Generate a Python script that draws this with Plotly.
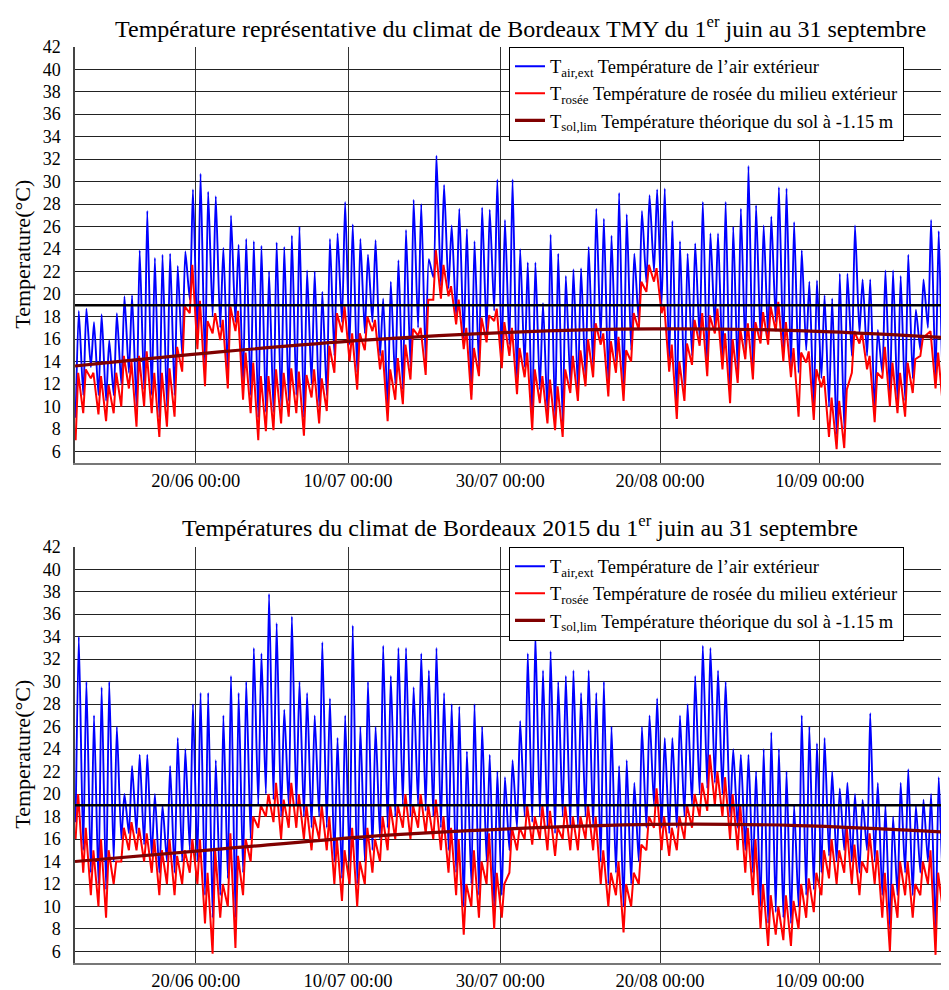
import plotly.graph_objects as go
import pandas as pd

# ---------------- data ----------------
START = "2015-06-04"          # day index 0 of every daily series below
X_RANGE = ["2015-06-04 03:00", "2015-09-26 23:25"]
TICK_DATES = ["2015-06-20", "2015-07-10", "2015-07-30", "2015-08-20", "2015-09-10"]
COMFORT_LIMIT = 19.0

TITLE_TMY = "Température représentative du climat de Bordeaux TMY du 1<sup>er</sup> juin au 31 septembre"
TITLE_2015 = "Températures du climat de Bordeaux 2015 du 1<sup>er</sup> juin au 31 septembre"
Y_TITLE = "Temperature(°C)"
LEG_AIR = "T<sub>air,ext</sub> Température de l’air extérieur"
LEG_DEW = "T<sub>rosée</sub> Température de rosée du milieu extérieur"
LEG_SOIL = "T<sub>sol,lim</sub> Température théorique du sol à -1.15 m"

# TMY : daily max / min of air temperature
tmy_air_max = [18.5, 18.7, 17.5, 18.2, 15.9, 18.3, 19.8, 19.9, 23.9, 27.4,
               23.2, 23.5, 23.6, 22.5, 23.8, 29.3, 30.7, 29.1, 28.7, 24.1,
               27.0, 24.4, 24.9, 24.7, 24.3, 22.0, 24.6, 24.2, 25.2, 26.0,
               22.1, 22.0, 20.2, 24.9, 25.4, 28.2, 26.2, 24.9, 23.5, 24.8,
               19.6, 21.1, 23.0, 25.7, 28.4, 28.0, 23.1, 32.3, 29.7, 26.1,
               27.6, 25.8, 24.7, 27.7, 27.5, 30.2, 26.6, 30.2, 24.0, 22.8,
               22.8, 19.2, 25.3, 23.6, 21.6, 22.2, 22.3, 24.2, 27.6, 26.7,
               25.2, 29.0, 27.1, 23.6, 27.4, 28.8, 29.3, 29.4, 26.5, 24.7,
               23.6, 24.5, 28.2, 25.4, 25.4, 28.2, 26.0, 27.6, 31.4, 27.9,
               26.1, 26.9, 29.5, 29.4, 26.4, 23.9, 21.1, 21.2, 19.9, 19.6,
               21.8, 21.8, 26.1, 21.3, 21.3, 16.8, 22.1, 22.1, 21.6, 23.5,
               18.6, 21.3, 26.6, 25.6, 22.5, 19.5]
tmy_air_min = [9.0, 11.0, 13.5, 11.0, 10.5, 11.0, 12.0, 13.0, 10.0, 11.5,
               11.0, 9.0, 10.0, 11.0, 14.5, 19.5, 16.0, 13.5, 18.0, 17.0,
               13.0, 17.5, 12.0, 11.0, 9.0, 9.5, 9.5, 10.0, 10.5, 11.0,
               9.0, 12.0, 10.0, 11.0, 14.5, 17.5, 15.5, 13.0, 16.5, 17.5,
               14.5, 10.0, 12.0, 11.5, 13.5, 17.0, 14.0, 21.5, 20.7, 20.5,
               18.0, 16.0, 11.0, 13.5, 16.5, 18.5, 14.5, 15.5, 12.0, 13.5,
               9.0, 11.5, 9.5, 9.0, 8.5, 12.0, 11.5, 12.5, 13.5, 16.0,
               12.0, 14.0, 11.5, 15.0, 17.5, 21.0, 22.0, 19.0, 14.0, 10.0,
               11.5, 14.5, 16.0, 13.5, 17.0, 14.0, 11.0, 13.0, 15.0, 13.0,
               16.0, 16.0, 17.5, 15.0, 13.5, 13.0, 15.0, 10.0, 12.5, 10.0,
               7.5, 8.0, 14.5, 16.5, 14.5, 9.5, 13.0, 11.0, 10.5, 10.5,
               12.5, 15.0, 17.0, 12.5, 10.5, 13.0]
# TMY : daily low / high of dew point
tmy_dew_lo = [7.0, 9.4, 12.5, 9.3, 8.7, 9.4, 10.0, 11.6, 8.2, 10.0,
              9.4, 7.3, 8.2, 9.1, 13.1, 18.3, 15.1, 11.8, 16.5, 15.9,
              11.6, 16.7, 10.6, 9.4, 7.0, 7.8, 7.9, 8.5, 9.1, 9.4,
              7.4, 10.8, 8.5, 9.6, 13.0, 16.6, 14.0, 11.5, 15.0, 16.7,
              13.3, 8.7, 10.6, 10.2, 12.4, 16.3, 12.8, 19.5, 19.6, 19.8,
              17.3, 15.1, 10.6, 12.7, 15.7, 17.6, 13.4, 14.5, 11.1, 12.6,
              7.9, 10.3, 8.5, 7.9, 7.3, 11.2, 10.5, 11.8, 12.6, 15.5,
              10.9, 13.0, 10.5, 14.0, 16.8, 20.2, 21.1, 18.3, 13.1, 8.9,
              10.5, 13.7, 15.4, 12.7, 16.5, 13.3, 10.3, 12.1, 14.2, 12.4,
              15.6, 15.5, 16.7, 14.0, 12.6, 9.1, 13.9, 8.8, 11.7, 7.3,
              6.2, 6.3, 13.0, 15.6, 13.3, 8.6, 12.5, 10.0, 9.4, 9.1,
              11.2, 14.5, 16.5, 11.6, 9.7, 12.5]
tmy_dew_hi = [13.0, 13.3, 13.0, 12.7, 11.9, 13.0, 14.5, 14.0, 14.5, 14.9,
              13.0, 13.0, 13.4, 15.3, 18.9, 22.6, 19.4, 17.6, 18.3, 17.7,
              18.9, 18.5, 14.8, 13.9, 12.7, 12.7, 13.3, 13.0, 13.4, 13.1,
              12.8, 13.3, 12.5, 15.4, 18.3, 18.9, 16.5, 16.5, 18.0, 17.7,
              15.0, 13.3, 14.3, 15.5, 16.9, 17.0, 19.5, 23.9, 22.6, 20.7,
              19.5, 17.0, 15.2, 17.9, 18.1, 18.7, 17.5, 17.0, 15.2, 14.8,
              13.3, 12.7, 12.4, 11.8, 13.3, 14.5, 15.0, 16.0, 17.4, 16.5,
              15.8, 16.2, 15.0, 18.3, 21.1, 22.6, 22.3, 19.1, 15.5, 14.0,
              15.6, 17.7, 18.3, 18.1, 18.7, 16.5, 16.0, 16.9, 17.4, 17.5,
              18.4, 18.9, 19.3, 17.5, 15.2, 14.8, 14.9, 13.3, 12.7, 10.8,
              10.5, 11.5, 16.7, 16.6, 14.5, 13.0, 15.3, 13.9, 13.0, 13.9,
              14.2, 16.1, 16.7, 14.8, 13.6, 13.5]
# soil temperature (slow curve), value at given day index
soil_days = [0, 19, 38, 57, 76, 95, 115]
tmy_soil = [13.6, 14.85, 15.9, 16.6, 16.9, 16.75, 16.1]

# 2015
bdx_air_max = [34.0, 30.0, 27.0, 29.5, 30.0, 26.0, 20.0, 22.5, 23.5, 23.5,
               20.0, 19.0, 22.5, 25.0, 24.0, 28.0, 29.0, 29.0, 23.0, 27.0,
               30.5, 29.0, 30.0, 33.0, 32.5, 37.8, 35.2, 27.5, 35.8, 30.0,
               29.0, 27.0, 33.5, 28.5, 25.0, 27.0, 35.0, 26.0, 30.0, 26.0,
               33.2, 30.5, 33.0, 33.0, 29.5, 32.5, 31.0, 33.0, 29.0, 28.0,
               27.8, 23.8, 28.0, 26.0, 23.5, 22.0, 21.5, 23.0, 26.5, 32.5,
               34.2, 31.0, 32.7, 30.0, 30.5, 31.0, 29.0, 31.0, 29.0, 30.0,
               26.0, 22.5, 23.0, 21.0, 26.0, 27.0, 28.5, 25.0, 25.0, 27.0,
               28.0, 30.5, 33.2, 33.0, 31.0, 30.0, 24.0, 23.5, 23.5, 22.0,
               24.0, 25.5, 24.0, 22.0, 19.0, 27.0, 26.0, 24.5, 25.0, 22.0,
               20.5, 21.0, 20.0, 19.5, 27.2, 21.0, 19.0, 18.0, 21.0, 22.2,
               19.0, 19.5, 20.0, 21.5, 21.0, 20.0]
bdx_dew_hi = [20.0, 17.0, 15.0, 16.0, 15.0, 14.0, 17.0, 17.5, 17.0, 16.5,
              16.0, 15.0, 16.0, 14.5, 15.0, 16.0, 16.0, 13.0, 15.0, 12.0,
              16.5, 14.5, 16.0, 18.0, 19.0, 20.0, 21.0, 19.5, 21.0, 20.0,
              19.0, 18.0, 19.0, 18.0, 16.0, 15.0, 17.0, 14.0, 17.0, 16.0,
              18.0, 19.0, 19.0, 20.0, 19.0, 20.0, 19.0, 19.5, 18.0, 17.0,
              16.0, 12.0, 15.0, 14.0, 16.5, 13.0, 12.0, 17.0, 17.0, 19.0,
              18.0, 19.0, 18.5, 17.0, 19.0, 18.0, 18.0, 19.0, 18.0, 15.0,
              13.0, 14.0, 12.0, 13.0, 15.5, 18.0, 20.5, 18.0, 17.0, 18.0,
              19.0, 20.0, 21.0, 23.5, 22.0, 21.5, 20.0, 19.0, 17.0, 16.0,
              12.0, 11.0, 10.0, 11.0, 10.5, 12.0, 12.5, 13.0, 15.0, 16.0,
              15.0, 17.0, 15.5, 14.0, 16.5, 15.0, 13.0, 12.0, 14.0, 14.0,
              12.0, 14.0, 15.0, 13.0, 12.0, 13.0]
bdx_dew_lo = [16.0, 13.0, 11.0, 10.0, 9.0, 12.0, 14.0, 15.0, 15.0, 14.0,
              13.0, 11.0, 12.0, 11.0, 12.0, 13.0, 12.0, 8.5, 5.8, 9.0,
              10.0, 6.3, 11.0, 14.0, 17.0, 18.0, 17.5, 16.0, 17.0, 17.0,
              16.0, 15.0, 16.0, 15.0, 12.0, 10.5, 12.0, 10.0, 12.0, 13.0,
              14.0, 15.0, 16.0, 17.0, 16.0, 17.0, 16.5, 16.0, 15.0, 13.0,
              11.0, 7.5, 10.0, 9.0, 12.0, 8.0, 9.0, 13.0, 15.0, 16.0,
              15.5, 16.0, 15.0, 14.5, 16.0, 15.0, 15.0, 16.0, 15.0, 12.0,
              10.0, 11.0, 7.7, 10.0, 12.0, 15.0, 17.0, 15.0, 14.5, 15.0,
              16.0, 17.0, 18.0, 18.5, 19.0, 18.0, 16.0, 15.0, 13.0, 11.0,
              8.0, 6.5, 7.5, 7.0, 6.5, 8.0, 9.0, 9.5, 11.0, 12.5,
              12.0, 13.0, 12.0, 11.0, 13.0, 12.0, 9.0, 6.0, 9.0, 11.0,
              9.0, 11.0, 12.0, 5.7, 9.5, 10.0]
bdx_air_min = [17.5, 15.0, 13.0, 12.0, 11.5, 14.0, 16.0, 16.5, 16.5, 15.5,
               14.5, 13.0, 14.0, 13.0, 14.0, 15.0, 14.0, 11.0, 9.0, 11.0,
               12.5, 9.0, 13.0, 16.0, 19.0, 20.0, 19.5, 18.0, 19.0, 19.0,
               18.0, 17.0, 18.0, 17.0, 14.0, 12.5, 14.0, 12.0, 14.0, 15.0,
               16.0, 17.0, 18.0, 19.0, 18.0, 19.0, 18.5, 18.0, 17.0, 15.0,
               13.0, 10.0, 12.0, 11.0, 14.0, 10.0, 11.0, 15.0, 17.0, 18.0,
               17.5, 18.0, 17.0, 16.5, 18.0, 17.0, 17.0, 18.0, 17.0, 14.0,
               12.0, 13.0, 10.0, 12.0, 14.0, 17.0, 19.0, 17.0, 16.5, 17.0,
               18.0, 19.0, 20.0, 20.5, 21.0, 20.0, 18.0, 17.0, 15.0, 13.0,
               10.0, 8.5, 9.5, 9.0, 8.5, 10.0, 11.0, 11.5, 13.0, 14.5,
               14.0, 15.0, 14.0, 13.0, 15.0, 14.0, 11.0, 8.0, 11.0, 13.0,
               11.0, 13.0, 14.0, 8.0, 11.5, 12.0]
bdx_soil = [14.0, 15.1, 16.2, 16.9, 17.3, 17.2, 16.6]

# ---------------- helpers ----------------
start = pd.Timestamp(START)


def daily_series(lows, highs, h_low, h_high):
    xs, ys = [], []
    for d, (lo, hi) in enumerate(zip(lows, highs)):
        xs.append(start + pd.Timedelta(days=d, hours=h_low))
        ys.append(lo)
        xs.append(start + pd.Timedelta(days=d, hours=h_high))
        ys.append(hi)
    return xs, ys


def soil_series(days, vals):
    return [start + pd.Timedelta(days=d, hours=3) for d in days], vals


FONT = "Liberation Serif"
BLUE = "#0000ff"
RED = "#ff0000"
DARKRED = "#800000"

fig = go.Figure()

panels = [
    ("x", "y", "legend", tmy_air_min, tmy_air_max, tmy_dew_lo, tmy_dew_hi, tmy_soil),
    ("x2", "y2", "legend2", bdx_air_min, bdx_air_max, bdx_dew_lo, bdx_dew_hi, bdx_soil),
]
for xa, ya, leg, amin, amax, dlo, dhi, soil in panels:
    ax, ay = daily_series(amin, amax, 5, 15)
    dx, dy = daily_series(dlo, dhi, 5, 13)
    sx, sy = soil_series(soil_days, soil)
    fig.add_trace(go.Scatter(x=ax, y=ay, mode="lines", name=LEG_AIR, xaxis=xa, yaxis=ya,
                             legend=leg, line=dict(color=BLUE, width=1.9, shape="spline",
                                                   smoothing=0.6)))
    fig.add_trace(go.Scatter(x=dx, y=dy, mode="lines", name=LEG_DEW, xaxis=xa, yaxis=ya,
                             legend=leg, line=dict(color=RED, width=2.0)))
    fig.add_trace(go.Scatter(x=sx, y=sy, mode="lines", name=LEG_SOIL, xaxis=xa, yaxis=ya,
                             legend=leg, line=dict(color=DARKRED, width=3.2, shape="spline")))
    fig.add_trace(go.Scatter(x=[ax[0] - pd.Timedelta(days=1), ax[-1] + pd.Timedelta(days=1)],
                             y=[COMFORT_LIMIT, COMFORT_LIMIT], mode="lines", showlegend=False,
                             xaxis=xa, yaxis=ya, line=dict(color="black", width=2.6)))

# page body has an 8 px margin: lay the figure out in the shifted frame
OFF = 8
W, H = 949 - OFF, 990 - OFF
L = 75 - OFF


def ydom(top_px, bottom_px):
    return [1 - (bottom_px - OFF) / H, 1 - (top_px - OFF) / H]


def py(px):
    return 1 - (px - OFF) / H


def pxx(px):
    return (px - 75) / (W - L)


top_dom = ydom(46.7, 462.7)
bot_dom = ydom(546.7, 962.7)

xcommon = dict(type="date", range=X_RANGE, tickvals=TICK_DATES, tickformat="%d/%m %H:%M",
               showgrid=True, gridcolor="#333", gridwidth=1, showline=True, linecolor="#777",
               linewidth=2, ticks="", ticklabelstandoff=0, zeroline=False, automargin=False,
               tickfont=dict(family=FONT, size=18.5, color="black"))
ycommon = dict(range=[5, 42], tick0=0, dtick=2, showgrid=True, gridcolor="#222", gridwidth=1,
               showline=True, linecolor="#444", linewidth=1.5, ticks="", ticklabelstandoff=9,
               zeroline=False, automargin=False,
               tickfont=dict(family=FONT, size=18, color="black"))

legcommon = dict(x=pxx(509), xanchor="left", yanchor="top", bgcolor="white",
                 bordercolor="black", borderwidth=1, font=dict(family=FONT, size=18.5, color="black"),
                 itemwidth=30, tracegroupgap=0)

fig.update_layout(
    width=W, height=H, margin=dict(l=L, r=0, t=0, b=0, autoexpand=False),
    plot_bgcolor="white", paper_bgcolor="white",
    font=dict(family=FONT, color="black"),
    xaxis=dict(domain=[0, 1], anchor="y", **xcommon),
    yaxis=dict(domain=top_dom, anchor="x", **ycommon),
    xaxis2=dict(domain=[0, 1], anchor="y2", **xcommon),
    yaxis2=dict(domain=bot_dom, anchor="x2", **ycommon),
    legend=dict(y=top_dom[1], **legcommon),
    legend2=dict(y=bot_dom[1], **legcommon),
    showlegend=True,
    annotations=[
        dict(text=TITLE_TMY, x=pxx(520), y=py(27), xref="paper", yref="paper",
             xanchor="center", yanchor="middle", showarrow=False, font=dict(family=FONT, size=24)),
        dict(text=TITLE_2015, x=pxx(520), y=py(526), xref="paper", yref="paper",
             xanchor="center", yanchor="middle", showarrow=False, font=dict(family=FONT, size=24)),
        dict(text=Y_TITLE, x=pxx(23), y=py(254.7), xref="paper", yref="paper",
             xanchor="center", yanchor="middle", textangle=-90, showarrow=False,
             font=dict(family=FONT, size=22)),
        dict(text=Y_TITLE, x=pxx(23), y=py(754.7), xref="paper", yref="paper",
             xanchor="center", yanchor="middle", textangle=-90, showarrow=False,
             font=dict(family=FONT, size=22)),
    ],
)

fig.write_html("out.html")
